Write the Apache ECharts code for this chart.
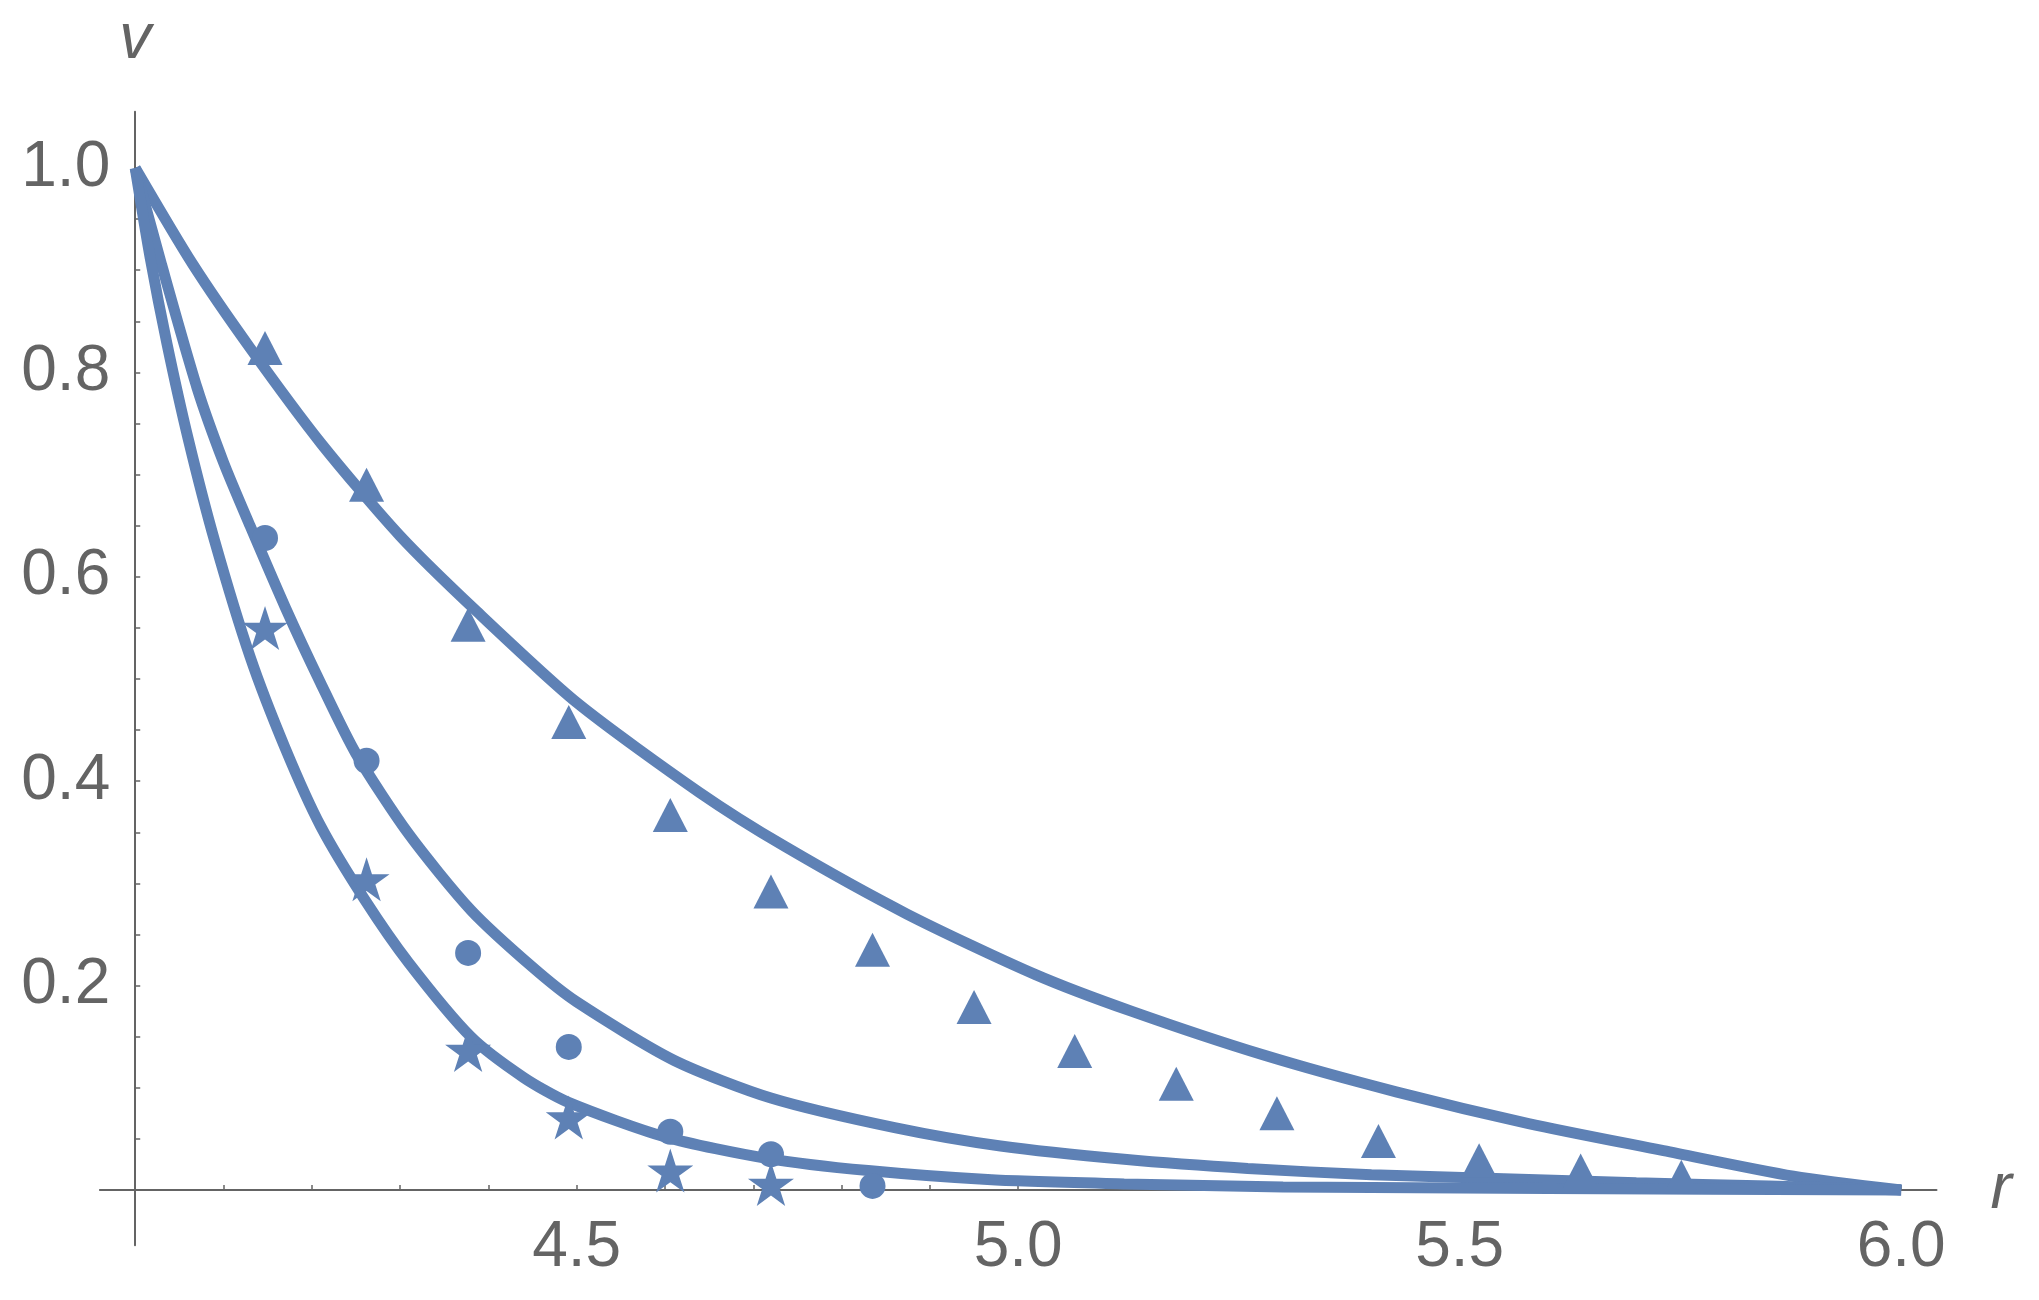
<!DOCTYPE html>
<html>
<head>
<meta charset="utf-8">
<title>v(r)</title>
<script src="https://cdn.jsdelivr.net/npm/echarts@6/dist/echarts.min.js"></script>
<style>
  html, body { margin: 0; padding: 0; background: #fff; }
  #main { width: 2039px; height: 1300px; }
</style>
</head>
<body>
<div id="main"></div>
<script>
  // solid curves
  var curveR1 = [4.000, 4.065, 4.130, 4.211, 4.300, 4.387, 4.500, 4.639, 4.736, 4.874, 5.019, 5.128, 5.278, 5.428, 5.578, 5.728, 5.878, 6.000]
  var curveV1 = [1.000, 0.906, 0.824, 0.730, 0.640, 0.566, 0.477, 0.389, 0.336, 0.270, 0.211, 0.175, 0.132, 0.096, 0.065, 0.039, 0.0135, 0.000]

  var curveR2 = [4.00, 4.03, 4.07, 4.10, 4.13, 4.17, 4.21, 4.25, 4.31, 4.38, 4.45, 4.50, 4.61, 4.72, 4.86, 4.98, 5.12, 5.26, 5.40, 5.55, 5.70, 5.85, 6.00]
  var curveV2 = [1.000, 0.905, 0.785, 0.712, 0.650, 0.570, 0.496, 0.427, 0.348, 0.274, 0.218, 0.184, 0.127, 0.090, 0.061, 0.043, 0.030, 0.021, 0.015, 0.011, 0.007, 0.004, 0.000]

  var curveR3 = [4.000, 4.017, 4.036, 4.060, 4.090, 4.130, 4.170, 4.210, 4.260, 4.310, 4.380, 4.440, 4.490, 4.600, 4.715, 4.830, 4.970, 5.120, 5.300, 5.600, 6.000]
  var curveV3 = [1.000, 0.912, 0.828, 0.735, 0.635, 0.522, 0.432, 0.356, 0.284, 0.222, 0.150, 0.110, 0.086, 0.052, 0.031, 0.019, 0.010, 0.006, 0.003, 0.0015, 0.000]

  // markers, all on the same r grid
  var markerR = [4.147, 4.262, 4.377, 4.491, 4.606, 4.720, 4.835, 4.950, 5.064, 5.179, 5.293, 5.408, 5.522, 5.637, 5.751]
  var triangleV = [0.824, 0.690, 0.553, 0.458, 0.367, 0.292, 0.235, 0.179, 0.136, 0.104, 0.075, 0.048, 0.029, 0.019, 0.013]
  var circleV = [0.638, 0.420, 0.232, 0.140, 0.057, 0.035, 0.004]
  var starV = [0.550, 0.304, 0.137, 0.071, 0.019, 0.006]

  // ticks
  var xTickLabels = [4.5, 5.0, 5.5, 6.0]
  var xTicks = [4.1, 4.2, 4.3, 4.4, 4.5, 4.6, 4.7, 4.8, 4.9, 5.0, 5.1, 5.2, 5.3, 5.4, 5.5, 5.6, 5.7, 5.8, 5.9, 6.0]
  var yTickLabels = [0.2, 0.4, 0.6, 0.8, 1.0]
  var yTicks = [0.05, 0.1, 0.15, 0.2, 0.25, 0.3, 0.35, 0.4, 0.45, 0.5, 0.55, 0.6, 0.65, 0.7, 0.75, 0.8, 0.85, 0.9, 0.95, 1.0]

  var X_MIN = 3.96, X_MAX = 6.04, Y_MIN = -0.054, Y_MAX = 1.055
  var BLUE = '#5E81B5'
  var GREY = '#646464'
  var FONT = '"Liberation Sans", Arial, sans-serif'

  function zip(xs, ys) {
    var out = []
    for (var i = 0; i < ys.length; i++) out.push([xs[i], ys[i]])
    return out
  }

  // five pointed star marker
  function starPath() {
    var pts = []
    for (var i = 0; i < 10; i++) {
      var a = -Math.PI / 2 + i * Math.PI / 5
      var rad = i % 2 ? 19.1 : 50
      pts.push((50 + rad * Math.cos(a)).toFixed(2) + ' ' + (50 + rad * Math.sin(a)).toFixed(2))
    }
    return 'path://M' + pts.join(' L') + ' Z'
  }

  function curve(r, v) {
    return {
      type: 'line',
      data: zip(r, v),
      showSymbol: false,
      smooth: 0.25,
      lineStyle: { color: BLUE, width: 11 },
      z: 2
    }
  }

  function markers(symbol, size, v) {
    return {
      type: 'scatter',
      data: zip(markerR, v),
      symbol: symbol,
      symbolSize: size,
      itemStyle: { color: BLUE, opacity: 1 },
      z: 3
    }
  }

  var chart = echarts.init(document.getElementById('main'))
  var option = {
    animation: false,
    backgroundColor: '#fff',
    grid: { left: 99.9, right: 102.5, top: 111.8, bottom: 54.8, containLabel: false, outerBoundsMode: 'none' },
    xAxis: {
      type: 'value',
      min: X_MIN,
      max: X_MAX,
      name: 'r',
      nameLocation: 'end',
      nameGap: 54,
      nameTextStyle: { color: GREY, fontSize: 64, fontStyle: 'italic', fontFamily: FONT, align: 'left', verticalAlign: 'middle' },
      axisLine: { show: true, onZero: true, lineStyle: { color: GREY, width: 2 } },
      axisTick: { show: true, inside: true, length: 5, customValues: xTicks, lineStyle: { color: GREY, width: 1.5 } },
      axisLabel: {
        customValues: xTickLabels,
        formatter: function (v) { return v.toFixed(1) },
        color: GREY,
        fontSize: 64,
        fontFamily: FONT,
        margin: -29
      },
      splitLine: { show: false }
    },
    yAxis: {
      type: 'value',
      min: Y_MIN,
      max: Y_MAX,
      name: 'v',
      nameLocation: 'end',
      nameGap: 72,
      nameTextStyle: { color: GREY, fontSize: 64, fontStyle: 'italic', fontFamily: FONT, align: 'center', verticalAlign: 'middle' },
      axisLine: { show: true, onZero: false, lineStyle: { color: GREY, width: 2 } },
      axisTick: { show: true, inside: true, length: 5, customValues: yTicks, lineStyle: { color: GREY, width: 1.5 } },
      axisLabel: {
        customValues: yTickLabels,
        formatter: function (v) { return v.toFixed(1) },
        color: GREY,
        fontSize: 64,
        fontFamily: FONT,
        margin: 25
      },
      splitLine: { show: false }
    },
    series: [
      curve(curveR1, curveV1),
      curve(curveR2, curveV2),
      curve(curveR3, curveV3),
      markers('triangle', [35, 34], triangleV),
      markers('circle', 26, circleV),
      markers(starPath(), [46, 44], starV)
    ]
  }
  chart.setOption(option)

  // put the vertical axis at r = 4 instead of the left edge of the grid
  var p4 = chart.convertToPixel({ xAxisIndex: 0 }, 4)
  var pMin = chart.convertToPixel({ xAxisIndex: 0 }, X_MIN)
  chart.setOption({ yAxis: { offset: -(p4 - pMin) } })
</script>
</body>
</html>
